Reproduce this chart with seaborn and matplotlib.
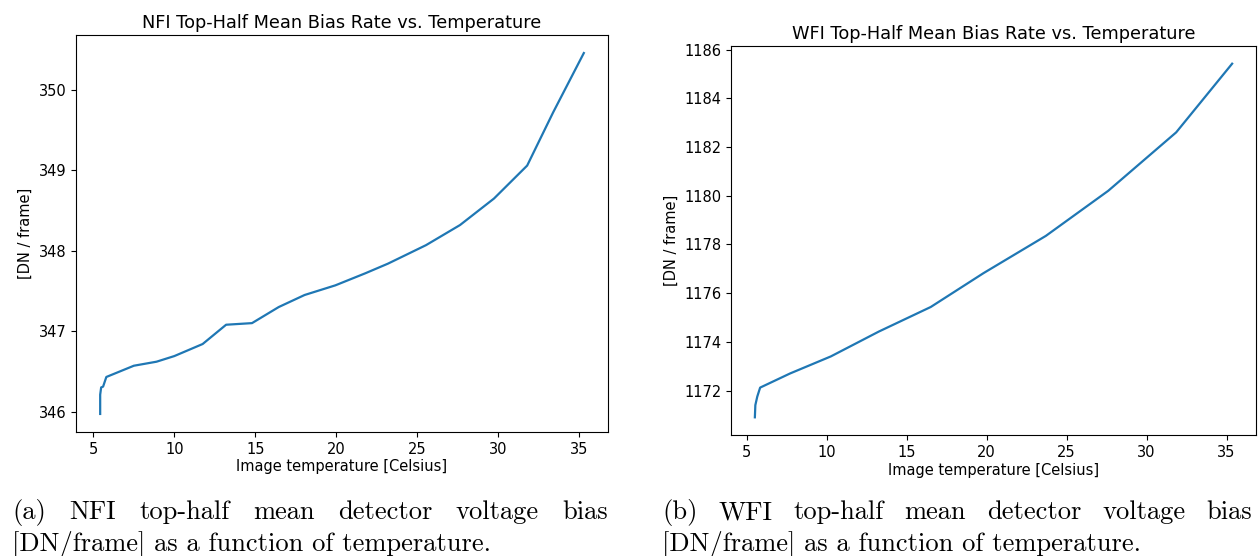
import matplotlib
matplotlib.use("agg")
import matplotlib.pyplot as plt
import numpy as np
import pandas as pd
import seaborn as sns

# NFI top-half mean bias vs temperature
nfi_temp = [5.42, 5.42, 5.48, 5.6, 5.8, 7.5, 8.9, 10.0, 11.75, 13.2, 14.8,
            16.45, 18.05, 19.95, 21.8, 23.2, 25.55, 27.65, 29.75, 31.8, 33.4, 35.3]
nfi_bias = [345.97, 346.21, 346.30, 346.31, 346.43, 346.57, 346.62, 346.69, 346.84,
            347.08, 347.10, 347.30, 347.45, 347.57, 347.72, 347.84, 348.07, 348.32,
            348.65, 349.06, 349.72, 350.46]

# WFI top-half mean bias vs temperature
wfi_temp = [5.5, 5.53, 5.65, 5.83, 7.7, 10.25, 13.25, 16.5, 19.8, 23.7, 27.6, 31.85, 35.35]
wfi_bias = [1170.9, 1171.4, 1171.75, 1172.12, 1172.7, 1173.4, 1174.42, 1175.43,
            1176.82, 1178.35, 1180.2, 1182.6, 1185.42]

titles = ["NFI Top-Half Mean Bias Rate vs. Temperature",
          "WFI Top-Half Mean Bias Rate vs. Temperature"]
xlabel = "Image temperature [Celsius]"
ylabel = "[DN / frame]"
captions = [
    ["(a) NFI top-half mean detector voltage bias", "[DN/frame] as a function of temperature."],
    ["(b) WFI top-half mean detector voltage bias", "[DN/frame] as a function of temperature."],
]

W, H = 1259, 556
fig = plt.figure(figsize=(W / 100, H / 100), dpi=100)

# axes boxes in pixels: left, top, right, bottom
boxes = [(76, 35, 608, 432), (731, 46, 1256, 435)]
datasets = [(nfi_temp, nfi_bias), (wfi_temp, wfi_bias)]

for (l, t, r, b), (xs, ys), title in zip(boxes, datasets, titles):
    ax = fig.add_axes([l / W, 1 - b / H, (r - l) / W, (b - t) / H])
    df = pd.DataFrame({"temp": xs, "bias": ys})
    sns.lineplot(data=df, x="temp", y="bias", ax=ax, sort=False,
                 estimator=None, color="#1f77b4", linewidth=1.6)
    ax.set_title(title, fontsize=12.8, pad=5)
    ax.set_xlabel(xlabel, fontsize=10.5, labelpad=2)
    ax.set_ylabel(ylabel, fontsize=10.5)
    ax.tick_params(labelsize=10.5)
    ax.set_xticks([5, 10, 15, 20, 25, 30, 35])

ax0, ax1 = fig.axes
ax0.set_yticks([346, 347, 348, 349, 350])
ax1.set_yticks(np.arange(1172, 1187, 2))

# justified captions below the plots
fig.canvas.draw()
renderer = fig.canvas.get_renderer()
CAP_SIZE = 19.1


def justify_line(text, x0, x1, y):
    words = text.split()
    arts = [fig.text(0, 0, w, fontsize=CAP_SIZE, family="cmr10") for w in words]
    widths = [a.get_window_extent(renderer).width for a in arts]
    gap = (x1 - x0 - sum(widths)) / (len(words) - 1)
    x = x0
    for a, w in zip(arts, widths):
        a.set_position((x / W, 1 - y / H))
        x += w + gap


for cap, (x0, x1) in zip(captions, [(12, 608), (662, 1252)]):
    justify_line(cap[0], x0, x1, 519)
    fig.text(x0 / W, 1 - 551 / H, cap[1], fontsize=CAP_SIZE, family="cmr10")

fig.savefig("out.png", dpi=100)
